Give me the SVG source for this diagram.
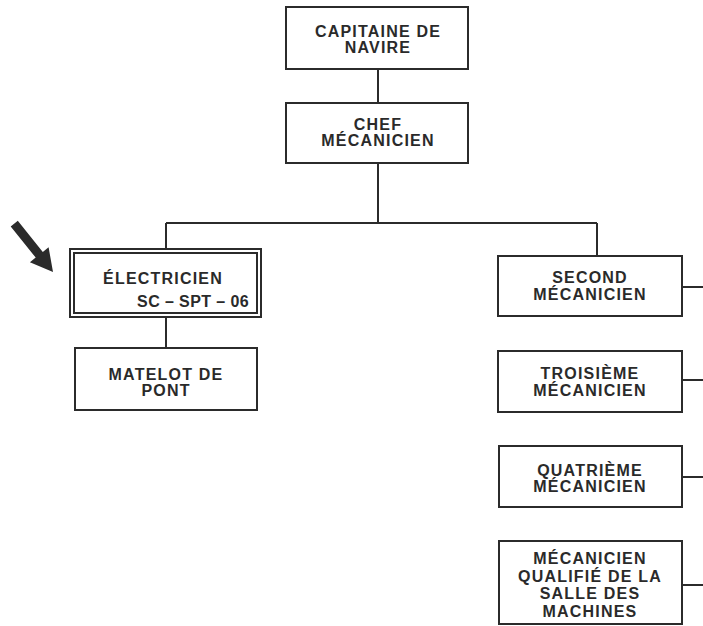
<svg xmlns="http://www.w3.org/2000/svg" width="703" height="626" viewBox="0 0 703 626">
<style>
.box{fill:#fff;stroke:#2b2b2b;stroke-width:2}
.ln{fill:none;stroke:#2b2b2b;stroke-width:2}
text{font-family:"Liberation Sans",Arial,sans-serif;font-weight:bold;font-size:16px;letter-spacing:1.2px;fill:#2a2a2a;text-anchor:middle}
</style>
<rect width="703" height="626" fill="#fff"/>
<g id="connectors">
<path class="ln" d="M378 69V103M378 163V223M166 223H597M166 223V249M597 223V256M166 317V348"/>
<path class="ln" d="M682 287H703M682 380H703M682 477H703M682 585H703"/>
</g>
<g id="arrow">
<polygon points="17.8,220.8 42.8,252 48.6,247.3 53,272 29.9,262.3 35.7,257.6 10.7,226.4" fill="#2b2b2b"/>
</g>
<g id="capitaine">
<rect class="box" x="286" y="7" width="182" height="62"/>
<text x="378" y="37">CAPITAINE DE</text>
<text x="378" y="53">NAVIRE</text>
</g>
<g id="chef">
<rect class="box" x="286" y="103" width="182" height="60"/>
<text x="378" y="130">CHEF</text>
<text x="378" y="146">MÉCANICIEN</text>
</g>
<g id="electricien">
<rect class="box" x="70" y="249" width="191" height="68"/>
<rect class="box" x="74" y="253" width="183" height="60" stroke-width="1.6"/>
<text x="163" y="284">ÉLECTRICIEN</text>
<text x="249" y="307" style="text-anchor:end;letter-spacing:0.4px">SC – SPT – 06</text>
</g>
<g id="matelot">
<rect class="box" x="75" y="348" width="182" height="62"/>
<text x="166" y="380">MATELOT DE</text>
<text x="166" y="396">PONT</text>
</g>
<g id="second">
<rect class="box" x="498" y="256" width="184" height="60"/>
<text x="590" y="283">SECOND</text>
<text x="590" y="300">MÉCANICIEN</text>
</g>
<g id="troisieme">
<rect class="box" x="498" y="351" width="184" height="61"/>
<text x="590" y="379">TROISIÈME</text>
<text x="590" y="396">MÉCANICIEN</text>
</g>
<g id="quatrieme">
<rect class="box" x="499" y="446" width="183" height="61"/>
<text x="590" y="476">QUATRIÈME</text>
<text x="590" y="492">MÉCANICIEN</text>
</g>
<g id="qualifie">
<rect class="box" x="499" y="541" width="183" height="83"/>
<text x="590" y="564">MÉCANICIEN</text>
<text x="590" y="581.5">QUALIFIÉ DE LA</text>
<text x="590" y="599">SALLE DES</text>
<text x="590" y="616.5">MACHINES</text>
</g>
</svg>
